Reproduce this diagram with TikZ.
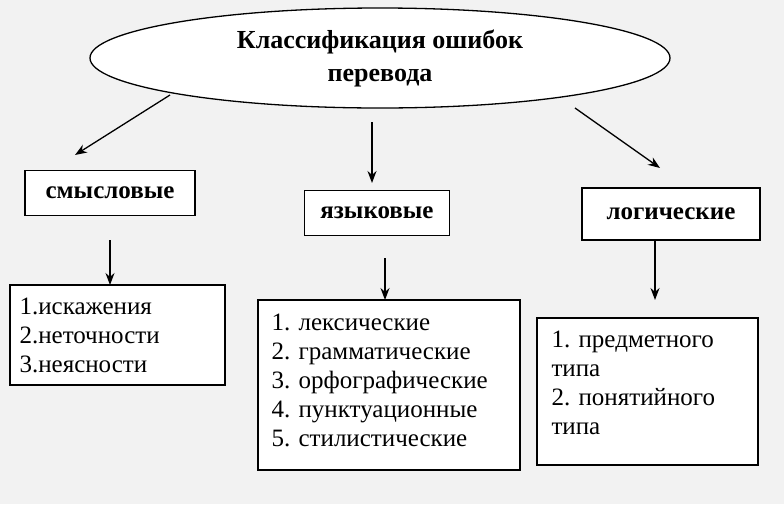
\documentclass[tikz,border=0pt]{standalone}
\usepackage{fontspec}
\setmainfont{Liberation Serif}
\usetikzlibrary{shapes.geometric,arrows.meta}
\begin{document}
\begin{tikzpicture}[x=1pt,y=-1pt,
  box/.style={draw,line width=1.3pt,fill=white,inner sep=0pt},
  arr/.style={line width=1.3pt,-{Stealth[length=12pt,width=9pt]}},
  hd/.style={font=\bfseries\fontsize{25}{32}\selectfont},
  lst/.style={font=\fontsize{25}{29}\selectfont,align=left,anchor=north west}]
\fill[black!5] (0,0) rectangle (784,504);
\useasboundingbox (0,0) rectangle (784,504);
\node[ellipse,draw,line width=1.3pt,fill=white,minimum width=580pt,minimum height=100pt,align=center,font=\bfseries\fontsize{26}{33}\selectfont] (root) at (380,58) {Классификация ошибок\\перевода};
\node[box,minimum width=170pt,minimum height=45pt,hd] (a) at (110,193) {смысловые};
\node[box,minimum width=145pt,minimum height=45pt,hd] (b) at (377,213) {языковые};
\node[box,minimum width=178pt,minimum height=52pt,hd] (c) at (671,214) {логические};
\draw[box] (10,285) rectangle (225,385);
\draw[box] (258,300) rectangle (520,470);
\draw[box] (537,318) rectangle (758,465);
\node[lst] (la) at (16,294) {1.искажения\\2.неточности\\3.неясности};
\node[lst] (lb) at (268,310) {1. лексические\\2. грамматические\\3. орфографические\\4. пунктуационные\\5. стилистические};
\node[lst] (lc) at (548,327) {1. предметного\\типа\\2. понятийного\\типа};
\coordinate (r1) at (170,95); \coordinate (r1e) at (75,155);
\coordinate (r2) at (372,122); \coordinate (r2e) at (372,183);
\coordinate (r3) at (575,108); \coordinate (r3e) at (660,168);
\draw[arr] (r1) -- (r1e);
\draw[arr] (r2) -- (r2e);
\draw[arr] (r3) -- (r3e);
\coordinate (s1) at (110,240); \coordinate (d1) at (110,285);
\coordinate (s2) at (385,258); \coordinate (d2) at (385,300);
\coordinate (s3) at (655,240); \coordinate (d3) at (655,300);
\draw[arr] (s1) -- (d1);
\draw[arr] (s2) -- (d2);
\draw[arr] (s3) -- (d3);
\end{tikzpicture}
\end{document}
